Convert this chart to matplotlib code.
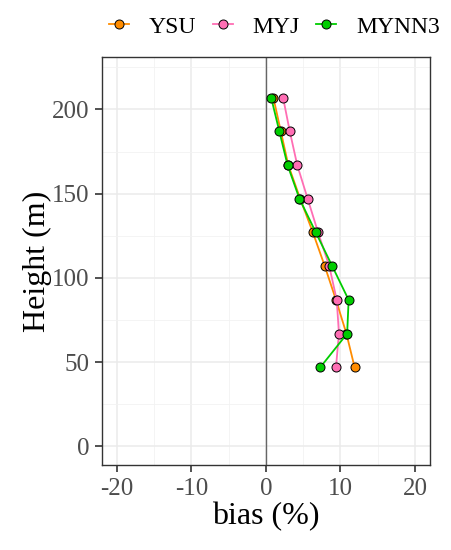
import matplotlib
matplotlib.use("Agg")
import matplotlib.pyplot as plt
from matplotlib.ticker import MultipleLocator, FuncFormatter
from matplotlib.lines import Line2D

heights = [47, 67, 87, 107, 127, 147, 167, 187, 207]
ysu = [11.9, 10.8, 9.4, 7.9, 6.3, 4.6, 3.0, 2.0, 1.0]
myj = [9.4, 9.8, 9.5, 8.5, 7.0, 5.6, 4.2, 3.2, 2.3]
mynn3 = [7.3, 10.9, 11.1, 8.9, 6.7, 4.5, 2.9, 1.8, 0.7]
series_names = ["YSU", "MYJ", "MYNN3"]
colors = ["#FF8C00", "#FF6EB4", "#00CD00"]

plt.rcParams['font.family'] = ['Liberation Serif', 'DejaVu Serif']

fig = plt.figure(figsize=(4.52, 5.5), dpi=100)
ax = fig.add_axes([0.2257, 0.1545, 0.951 - 0.2257, 0.896 - 0.1545])

ax.set_xlim(-22, 22)
ax.set_ylim(-11, 231)
ax.xaxis.set_major_locator(MultipleLocator(10))
ax.xaxis.set_minor_locator(MultipleLocator(5))
ax.yaxis.set_major_locator(MultipleLocator(50))
ax.yaxis.set_minor_locator(MultipleLocator(25))
ax.grid(which='major', color='#EBEBEB', linewidth=1.1, zorder=0)
ax.grid(which='minor', color='#F2F2F2', linewidth=0.6, zorder=0)
ax.set_axisbelow(True)
ax.axvline(0, color='#666666', linewidth=1.0, zorder=1)

for name, vals, c in zip(series_names, [ysu, myj, mynn3], colors):
    ax.plot(vals, heights, color=c, linewidth=1.3, marker='o', markersize=6.5,
            markerfacecolor=c, markeredgecolor='black', markeredgewidth=0.7,
            label=name, zorder=3)

for s in ax.spines.values():
    s.set_color('#333333')
    s.set_linewidth(1.0)
ax.tick_params(which='major', length=5, width=1.2, color='#333333',
               labelsize=18, labelcolor='#4D4D4D', pad=4)
ax.tick_params(which='minor', length=0)
ax.xaxis.set_major_formatter(FuncFormatter(lambda v, p: f"{int(v)}"))

ax.set_xlabel("bias (%)", fontsize=23, labelpad=2)
ax.set_ylabel("Height (m)", fontsize=23, labelpad=0)

handles = [Line2D([0], [0], color=c, linewidth=1.3, marker='o', markersize=6.5,
                  markerfacecolor=c, markeredgecolor='black', markeredgewidth=0.7)
           for c in colors]
fig.legend(handles, series_names, loc='center', bbox_to_anchor=(0.607, 0.951),
           ncol=3, frameon=False, fontsize=17, handlelength=0.85,
           handletextpad=0.85, columnspacing=0.68)

fig.savefig("out.png", dpi=100)
